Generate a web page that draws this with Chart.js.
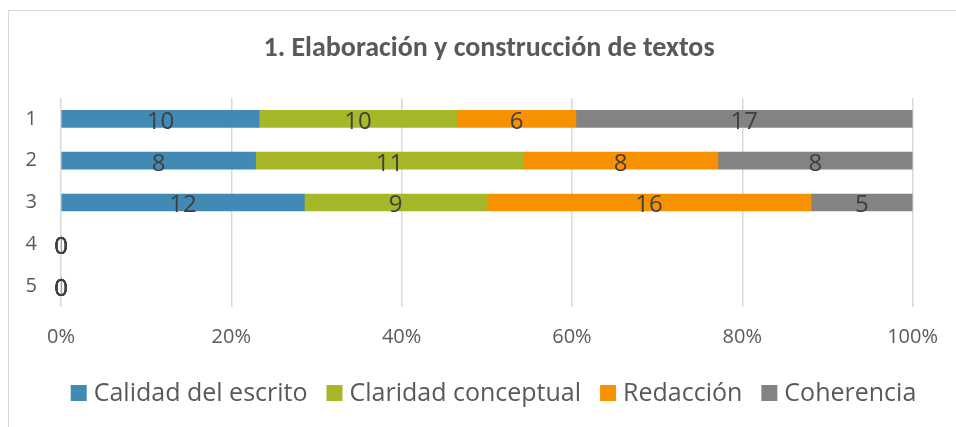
<!DOCTYPE html>
<html>
<head>
<meta charset="utf-8">
<script src="https://cdn.jsdelivr.net/npm/chart.js@4.4.1/dist/chart.umd.min.js"></script>
<style>
  html, body { margin: 0; padding: 0; background: #fff; overflow: hidden; }
  #wrap { position: relative; width: 956px; height: 427px; }
  #frame { position: absolute; left: 8px; top: 10px; width: 1200px; height: 1200px; border: 1px solid #d9d9d9; box-sizing: border-box; }
  canvas { position: absolute; left: 0; top: 0; }
</style>
</head>
<body>
<div id="wrap">
  <div id="frame"></div>
  <canvas id="c" width="956" height="427"></canvas>
</div>
<script>
const chartTitle = "1. Elaboración y construcción de textos";
const categories = ["1", "2", "3", "4", "5"];
const seriesNames = ["Calidad del escrito", "Claridad conceptual", "Redacción", "Coherencia"];
const calidad = [10, 8, 12, 0, 0];
const claridad = [10, 11, 9, 0, 0];
const redaccion = [6, 8, 16, 0, 0];
const coherencia = [17, 8, 5, 0, 0];
const xTicks = ["0%", "20%", "40%", "60%", "80%", "100%"];
const colors = ["#418AB3", "#A6B727", "#F69200", "#838383"];

const raw = [calidad, claridad, redaccion, coherencia];
const totals = categories.map((_, i) => raw.reduce((s, a) => s + a[i], 0));
const pct = raw.map(a => a.map((v, i) => totals[i] ? v / totals[i] * 100 : 0));

const FONT = "'Open Sans', 'Noto Sans', sans-serif";
const TITLE_FONT = "Carlito, Lato, sans-serif";

const labelPlugin = {
  id: 'segLabels',
  afterDatasetsDraw(chart) {
    const ctx = chart.ctx;
    ctx.save();
    ctx.font = "24px " + FONT;
    ctx.fillStyle = "#404040";
    ctx.textAlign = "center";
    ctx.textBaseline = "middle";
    chart.data.datasets.forEach((ds, di) => {
      const meta = chart.getDatasetMeta(di);
      meta.data.forEach((bar, i) => {
        const v = raw[di][i];
        const cx = (bar.x + bar.base) / 2;
        ctx.fillText(String(v), cx, bar.y + 3);
      });
    });
    ctx.restore();
  }
};

const titleLegendPlugin = {
  id: 'titleLegend',
  afterDraw(chart) {
    const ctx = chart.ctx;
    ctx.save();
    ctx.font = "bold 28px " + TITLE_FONT;
    ctx.fillStyle = "#595959";
    ctx.textAlign = "center";
    ctx.textBaseline = "middle";
    ctx.fillText(chartTitle, 489, 49);
    ctx.font = "25px " + FONT;
    ctx.textAlign = "left";
    const box = 16, gap = 7, spacing = 19, cy = 393;
    const widths = chart.data.datasets.map(d => ctx.measureText(d.label).width);
    const total = widths.reduce((s, w) => s + box + gap + w, 0) + spacing * (widths.length - 1);
    let x = 493.5 - total / 2;
    chart.data.datasets.forEach((d, k) => {
      ctx.fillStyle = d.backgroundColor;
      ctx.fillRect(x, cy - box / 2, box, box);
      ctx.fillStyle = "#595959";
      ctx.fillText(d.label, x + box + gap, cy + 1);
      x += box + gap + widths[k] + spacing;
    });
    ctx.restore();
  }
};

new Chart(document.getElementById('c'), {
  type: 'bar',
  data: {
    labels: categories,
    datasets: seriesNames.map((n, k) => ({
      label: n,
      data: pct[k],
      backgroundColor: colors[k],
      borderWidth: 0,
      barThickness: 17
    }))
  },
  options: {
    indexAxis: 'y',
    responsive: false,
    animation: false,
    layout: { padding: { left: 0, right: 43, top: 98, bottom: 70 } },
    scales: {
      x: {
        stacked: true,
        min: 0, max: 100,
        grid: { color: "#d9d9d9", lineWidth: 1.5, drawTicks: false },
        border: { display: false },
        ticks: {
          stepSize: 20,
          padding: 18,
          color: "#595959",
          font: { family: FONT, size: 20 },
          callback: (v, i) => xTicks[i]
        },
        afterFit(s) { s.height = 50; }
      },
      y: {
        stacked: true,
        grid: { display: false, drawTicks: false },
        border: { display: false },
        ticks: {
          padding: 24,
          color: "#595959",
          font: { family: FONT, size: 20 }
        },
        afterFit(s) { s.width = 61; }
      }
    },
    plugins: {
      title: { display: false },
      legend: { display: false },
      tooltip: { enabled: false }
    }
  },
  plugins: [labelPlugin, titleLegendPlugin]
});
</script>
</body>
</html>
